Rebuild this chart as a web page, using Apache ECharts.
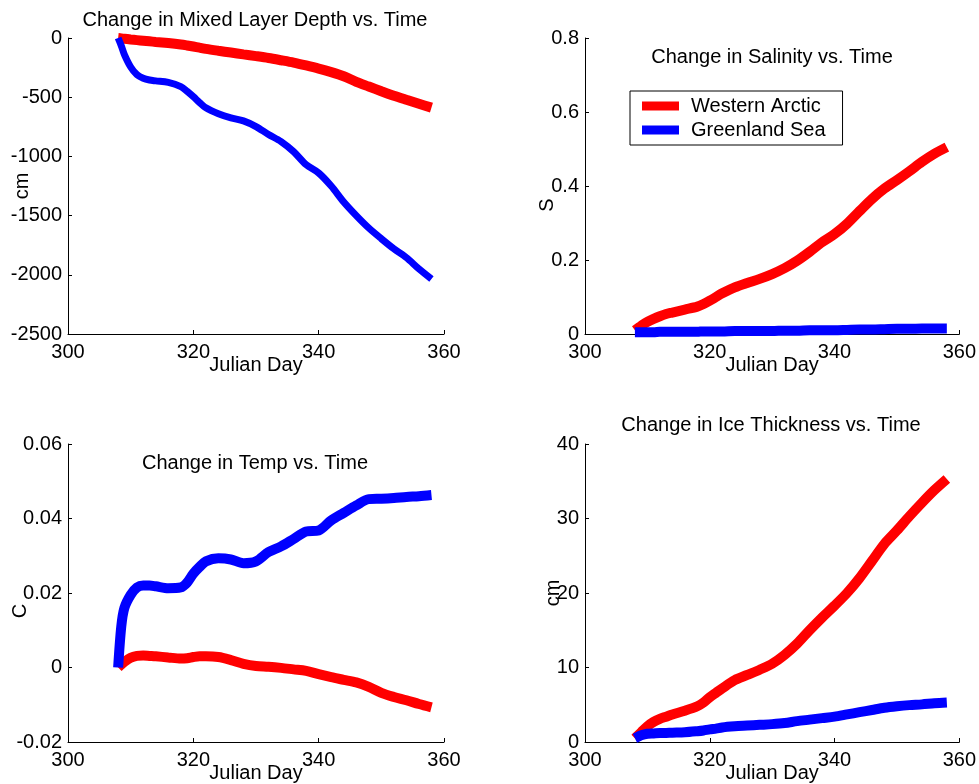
<!DOCTYPE html>
<html>
<head>
<meta charset="utf-8">
<script src="https://cdn.jsdelivr.net/npm/echarts@6/dist/echarts.min.js"></script>
<style>html,body{margin:0;padding:0;background:#fff}#c{width:979px;height:784px}</style>
</head>
<body>
<div id="c"></div>
<script>
// Julian days sampled
const days = [308,308.5,309,310,311,312,313,314,316,318,319,320,321,322,324,326,328,330,332,334,336,338,340,342,344,346,348,350,352,354,356,358];
const xTicks = [300,320,340,360];
const seriesNames = ['Western Arctic','Greenland Sea'];
const titles = ['Change in Mixed Layer Depth vs. Time','Change in Salinity vs. Time','Change in Temp vs. Time','Change in Ice Thickness vs. Time'];
const yNames = ['cm','S','C','cm'];
const xName = 'Julian Day';

// Mixed layer depth (cm)
const mldWA = [0,-3,-7,-13,-18,-23,-28,-33,-43,-55,-63,-72,-82,-92,-108,-123,-138,-153,-169,-188,-208,-232,-258,-288,-323,-370,-410,-450,-488,-522,-555,-588];
const mldGS = [0,-65,-140,-245,-310,-340,-355,-362,-375,-410,-450,-496,-545,-590,-640,-675,-700,-748,-815,-875,-960,-1070,-1140,-1250,-1385,-1500,-1605,-1695,-1780,-1855,-1950,-2035];
// Salinity (S)
const salWA = [0.01,0.016,0.022,0.033,0.041,0.048,0.054,0.058,0.066,0.074,0.081,0.09,0.1,0.11,0.126,0.138,0.149,0.162,0.178,0.198,0.222,0.248,0.27,0.298,0.332,0.365,0.393,0.416,0.44,0.465,0.487,0.505];
const salGS = [0.005,0.005,0.005,0.005,0.005,0.006,0.006,0.006,0.006,0.006,0.007,0.007,0.007,0.007,0.008,0.008,0.008,0.008,0.009,0.009,0.01,0.01,0.01,0.011,0.012,0.012,0.013,0.014,0.014,0.015,0.015,0.015];
// Temperature (C)
const tmpWA = [0,0.0008,0.0015,0.0026,0.0031,0.0032,0.0031,0.003,0.0027,0.0024,0.0025,0.0028,0.003,0.003,0.0028,0.002,0.001,0.0004,0.0002,-0.0001,-0.0005,-0.0009,-0.0018,-0.0026,-0.0033,-0.004,-0.0052,-0.0068,-0.0079,-0.0088,-0.0098,-0.0107];
const tmpGS = [0,0.011,0.016,0.0195,0.0215,0.022,0.022,0.0218,0.0213,0.0215,0.0228,0.0252,0.027,0.0285,0.0293,0.029,0.028,0.0285,0.031,0.0325,0.0345,0.0365,0.0368,0.0395,0.0415,0.0435,0.0452,0.0453,0.0455,0.0458,0.046,0.0463];
// Ice thickness (cm)
const iceWA = [0.5,0.9,1.3,2.1,2.7,3.1,3.4,3.7,4.2,4.8,5.3,6.0,6.6,7.2,8.3,9.0,9.7,10.5,11.7,13.2,15.0,16.7,18.3,20.0,22.0,24.3,26.6,28.4,30.3,32.1,33.8,35.3];
const iceGS = [0.5,0.7,0.9,1.1,1.15,1.2,1.22,1.25,1.3,1.45,1.55,1.7,1.8,1.95,2.1,2.2,2.3,2.4,2.55,2.8,3.0,3.2,3.4,3.7,4.0,4.3,4.6,4.8,4.95,5.05,5.2,5.3];

// y axis ranges [min, max, interval]
const yRanges = [[-2500,0,500],[0,0.8,0.2],[-0.02,0.06,0.02],[0,40,10]];

const FONT = 'Liberation Sans, Arial, Helvetica, sans-serif';
const grids = [
  {left:68, top:38, width:376, height:296},
  {left:585, top:38, width:376, height:296},
  {left:68, top:444, width:376, height:298},
  {left:585, top:444, width:376, height:298}
];
const titlePos = [[255,20],[772,57],[255,463],[771,425]];
const yNameGap = [36,28,38,22];
const yNamePad = [[0,0,0,0],[0,38,0,0],[0,36,0,0],[0,0,0,0]];

const fmt = v => String(+(+v).toFixed(4));
const pairs = (vals) => days.map((d,i)=>[d, vals[i]]);

const xAxes = grids.map((g,i)=>({
  type:'value', gridIndex:i, min:xTicks[0], max:xTicks[xTicks.length-1], interval:20,
  name:xName, nameLocation:'middle', nameGap:21, nameMoveOverlap:false,
  nameTextStyle:{fontSize:20,color:'#000',fontFamily:FONT},
  axisLine:{onZero:false,lineStyle:{color:'#000',width:1}},
  axisTick:{inside:true,length:4,lineStyle:{color:'#000'}},
  axisLabel:{fontSize:20,color:'#000',margin:8,fontFamily:FONT,formatter:fmt},
  splitLine:{show:false}
}));
const yAxes = grids.map((g,i)=>({
  type:'value', gridIndex:i, min:yRanges[i][0], max:yRanges[i][1], interval:yRanges[i][2],
  name:yNames[i], nameLocation:'middle', nameGap:yNameGap[i], nameMoveOverlap:false,
  nameTextStyle:{fontSize:20,color:'#000',fontFamily:FONT,padding:yNamePad[i]},
  axisLine:{onZero:false,lineStyle:{color:'#000',width:1}},
  axisTick:{inside:true,length:4,lineStyle:{color:'#000'}},
  axisLabel:{fontSize:20,color:'#000',margin:6,fontFamily:FONT,formatter:fmt},
  splitLine:{show:false}
}));

const dataSets = [[mldWA,mldGS],[salWA,salGS],[tmpWA,tmpGS],[iceWA,iceGS]];
const colors = ['#ff0000','#0000ff'];
const series = [];
dataSets.forEach((pair,i)=>{
  pair.forEach((vals,k)=>{
    series.push({
      type:'line', name:seriesNames[k], xAxisIndex:i, yAxisIndex:i,
      data:pairs(vals), showSymbol:false, symbol:'none', smooth:0.3,
      color:colors[k],
      lineStyle:{color:colors[k], width:(i===0&&k===1)?7:10},
      z: 2+k, animation:false
    });
  });
});

const chart = echarts.init(document.getElementById('c'), null, {renderer:'canvas'});
chart.setOption({
  animation:false,
  backgroundColor:'#fff',
  grid:grids,
  xAxis:xAxes,
  yAxis:yAxes,
  legend:{
    data:seriesNames, orient:'vertical', left:630, top:91,
    padding:[5,17,5,12], itemGap:4, itemWidth:37, itemHeight:9, icon:'rect',
    borderColor:'#000', borderWidth:1, backgroundColor:'#fff', borderRadius:0,
    textStyle:{fontSize:20,color:'#000',fontFamily:FONT,padding:[0,0,0,7]},
    selectedMode:false
  },
  graphic: titles.map((t,i)=>({
    type:'text', x:titlePos[i][0], y:titlePos[i][1],
    style:{text:t, fontSize:20, fontFamily:FONT, fill:'#000', align:'center', verticalAlign:'middle'}
  })),
  series:series
});
</script>
</body>
</html>
